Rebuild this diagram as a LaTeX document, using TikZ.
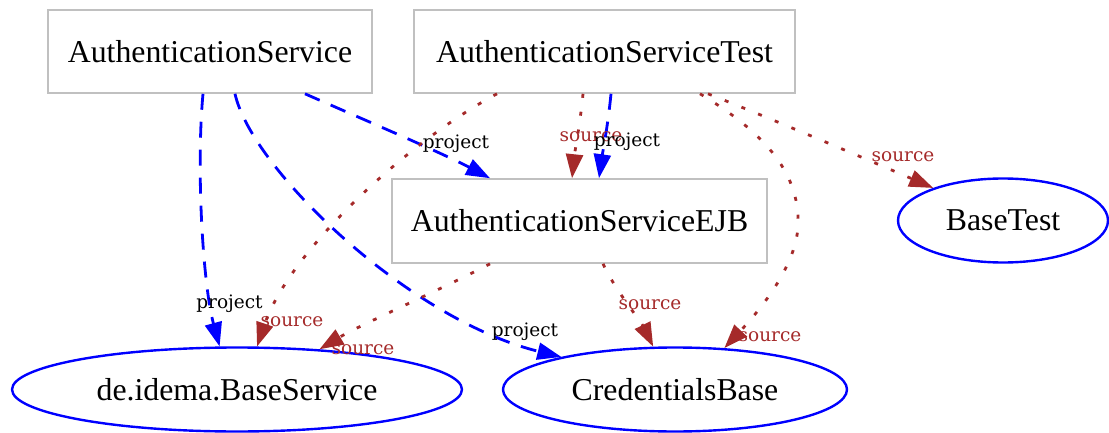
\documentclass[tikz,border=0pt]{standalone}
\usepackage{fontspec}
\setmainfont{Liberation Serif}
\newfontfamily\edgefont{DejaVu Serif}
\usetikzlibrary{arrows.meta,shapes.geometric}

\definecolor{srcbrown}{RGB}{165,42,42}
\definecolor{boxgray}{RGB}{192,192,192}

\begin{document}
\begin{tikzpicture}[x=1pt,y=-1pt,
  modbox/.style={draw=boxgray, line width=1.6pt, rectangle, inner sep=0pt,
    font=\fontsize{31.8}{36}\selectfont},
  extmod/.style={draw=blue, line width=2.4pt, ellipse, inner sep=0pt,
    minimum height=84pt, font=\fontsize{31.8}{36}\selectfont},
  projedge/.style={draw=blue, line width=2.8pt, dash pattern=on 16pt off 12pt,
    -{Triangle[length=24pt,width=17pt]}},
  srcedge/.style={draw=srcbrown, line width=2.8pt, dash pattern=on 4pt off 14pt,
    -{Triangle[length=24pt,width=17pt]}},
  projlabel/.style={font=\edgefont\fontsize{18.5}{20}\selectfont, inner sep=0pt, anchor=base},
  srclabel/.style={projlabel, text=srcbrown}]

\useasboundingbox (0,0) rectangle (1109,433);

% modules of the project
\node[modbox, minimum width=324pt, minimum height=83pt] (as)   at (210,51.5)  {AuthenticationService};
\node[modbox, minimum width=381pt, minimum height=83pt] (test) at (604.5,51.5) {AuthenticationServiceTest};
\node[modbox, minimum width=375pt, minimum height=84pt] (ejb)  at (579.5,221) {AuthenticationServiceEJB};

% external modules
\node[extmod, minimum width=210pt] (bt) at (1003,220.5) {BaseTest};
\node[extmod, minimum width=450pt] (bs) at (237,389.5)  {de.idema.BaseService};
\node[extmod, minimum width=344pt] (cb) at (675,389.5)  {CredentialsBase};

% project dependencies
\draw[projedge] ([xshift=-7pt]as.south) .. controls (196,170) and (203,285) .. (bs.112.9);
\draw[projedge] ([xshift=25pt]as.south) .. controls (252,170) and (410,320) .. (cb.164.9);
\draw[projedge] ([xshift=95pt]as.south) .. controls (360,118) and (440,152) .. ([xshift=-89.5pt]ejb.north);
\draw[projedge] ([xshift=6.5pt]test.south) .. controls (608,125) and (603,150) .. ([xshift=19.5pt]ejb.north);

% source dependencies
\draw[srcedge] ([xshift=-21.5pt]test.south) .. controls (580,125) and (575,150) .. ([xshift=-7.5pt]ejb.north);
\draw[srcedge] ([xshift=-107.5pt]test.south) .. controls (410,140) and (290,250) .. (bs.65.9);
\draw[srcedge] ([xshift=95.5pt]test.south) .. controls (760,130) and (800,170) .. (798,225)
                .. controls (797,265) and (760,310) .. (cb.40.2);
\draw[srcedge] ([xshift=103.5pt]test.south) .. controls (770,118) and (880,165) .. (bt.155.8);
\draw[srcedge] ([xshift=-89.5pt]ejb.south) .. controls (440,290) and (360,325) .. (bs.26.3);
\draw[srcedge] ([xshift=23.5pt]ejb.south) .. controls (615,290) and (640,320) .. (cb.117.9);

% edge labels
\node[projlabel] (l1)  at (229.5,308) {project};
\node[srclabel]  (l6)  at (292,326)   {source};
\node[srclabel]  (l9)  at (363,354)   {source};
\node[projlabel] (l2)  at (525,336)   {project};
\node[srclabel]  (l10) at (650,309)   {source};
\node[srclabel]  (l7)  at (770,341)   {source};
\node[srclabel]  (l8)  at (903,162)   {source};
\node[projlabel] (l3)  at (456,149)   {project};
\node[srclabel]  (l4)  at (591,142)   {source};
\node[projlabel] (l5)  at (627,147)   {project};

\end{tikzpicture}
\end{document}
